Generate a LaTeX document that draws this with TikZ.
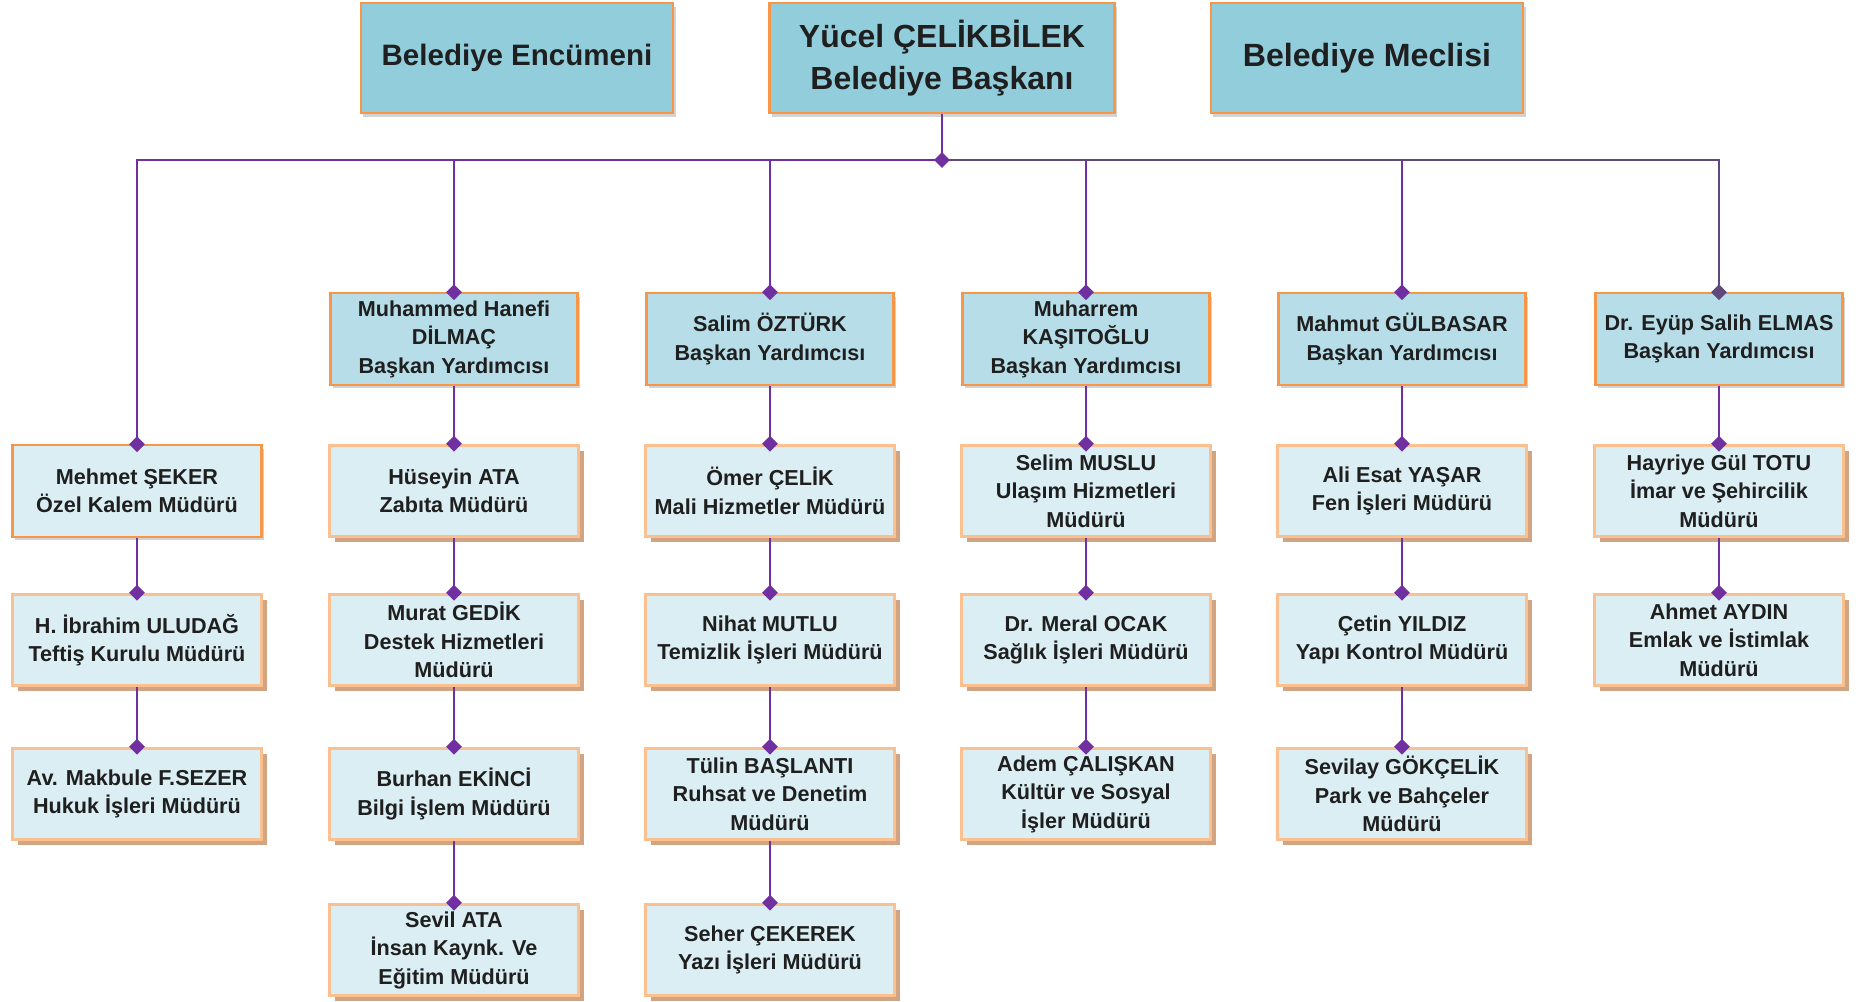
\documentclass[tikz,border=0pt]{standalone}
\usepackage{fontspec}
\setmainfont{Liberation Sans}
\usetikzlibrary{arrows.meta,shadows}
\definecolor{topfill}{HTML}{92CDDC}
\definecolor{yrdfill}{HTML}{B7DEE8}
\definecolor{mudfill}{HTML}{DAEEF3}
\definecolor{edgeorange}{HTML}{F79646}
\definecolor{edgelight}{HTML}{FAC090}
\definecolor{mudshadow}{HTML}{D2A482}
\definecolor{linkpurple}{HTML}{7030A0}
\definecolor{linkdark}{HTML}{5F497A}
\definecolor{txtgray}{HTML}{1F1F1F}

\begin{document}
\begin{tikzpicture}[x=0.02cm,y=-0.02cm,
    topbox/.style={draw=edgeorange, line width=1.2pt, fill=topfill, text=txtgray, align=center,
      minimum width=6.25cm, minimum height=2.2cm,
      font=\fontsize{16.8}{24.5}\selectfont\bfseries,
      drop shadow={opacity=0.35, shadow xshift=1.5pt, shadow yshift=-2pt}},
    yrdbox/.style={draw=edgeorange, line width=1.2pt, fill=yrdfill, text=txtgray, align=center,
      minimum width=4.94cm, minimum height=1.83cm, inner sep=1pt,
      font=\fontsize{12.3}{16.2}\selectfont\bfseries,
      drop shadow={opacity=0.35, shadow xshift=1.5pt, shadow yshift=-2pt}},
    kalembox/.style={yrdbox, fill=mudfill, minimum width=4.98cm},
    mudbox/.style={draw=edgelight, line width=1.8pt, fill=mudfill, text=txtgray, align=center,
      minimum width=4.98cm, minimum height=1.83cm, inner sep=1pt,
      font=\fontsize{12.3}{16.2}\selectfont\bfseries,
      general shadow={fill=mudshadow, shadow xshift=3pt, shadow yshift=-3pt}},
    link/.style={draw=linkpurple, line width=1.2pt, -{Diamond[length=9pt,width=9pt]}}]
  \useasboundingbox (0,0) rectangle (1863,1001);

  % top row
  \node[topbox] (encumen) at (517,58) {Belediye Encümeni};
  \node[topbox, minimum width=6.9cm, font=\fontsize{18.2}{24}\selectfont\bfseries] (baskan) at (942,58) {Yücel ÇELİKBİLEK\\Belediye Başkanı};
  \node[topbox, font=\fontsize{18.3}{24.5}\selectfont\bfseries] (meclis) at (1367,58) {Belediye Meclisi};

  % baskan yardimcilari
  \node[yrdbox] (yrd1) at (454,339) {Muhammed Hanefi\\DİLMAÇ\\Başkan Yardımcısı};
  \node[yrdbox] (yrd2) at (770,339) {Salim ÖZTÜRK\\Başkan Yardımcısı};
  \node[yrdbox] (yrd3) at (1086,339) {Muharrem\\KAŞITOĞLU\\Başkan Yardımcısı};
  \node[yrdbox] (yrd4) at (1402,339) {Mahmut GÜLBASAR\\Başkan Yardımcısı};
  \node[yrdbox] (yrd5) at (1719,339) {Dr. Eyüp Salih ELMAS\\Başkan Yardımcısı};

  % mudurler
  \node[kalembox] (ozelkalem) at (137,491) {Mehmet ŞEKER\\Özel Kalem Müdürü};
  \node[mudbox] (teftis) at (137,640) {H. İbrahim ULUDAĞ\\Teftiş Kurulu Müdürü};
  \node[mudbox] (hukuk) at (137,794) {Av. Makbule F.SEZER\\Hukuk İşleri Müdürü};

  \node[mudbox] (zabita) at (454,491) {Hüseyin ATA\\Zabıta Müdürü};
  \node[mudbox] (destek) at (454,640) {Murat GEDİK\\Destek Hizmetleri\\Müdürü};
  \node[mudbox] (bilgi) at (454,794) {Burhan EKİNCİ\\Bilgi İşlem Müdürü};
  \node[mudbox] (insan) at (454,950) {Sevil ATA\\İnsan Kaynk. Ve\\Eğitim Müdürü};

  \node[mudbox] (mali) at (770,491) {Ömer ÇELİK\\Mali Hizmetler Müdürü};
  \node[mudbox] (temizlik) at (770,640) {Nihat MUTLU\\Temizlik İşleri Müdürü};
  \node[mudbox] (ruhsat) at (770,794) {Tülin BAŞLANTI\\Ruhsat ve Denetim\\Müdürü};
  \node[mudbox] (yazi) at (770,950) {Seher ÇEKEREK\\Yazı İşleri Müdürü};

  \node[mudbox] (ulasim) at (1086,491) {Selim MUSLU\\Ulaşım Hizmetleri\\Müdürü};
  \node[mudbox] (saglik) at (1086,640) {Dr. Meral OCAK\\Sağlık İşleri Müdürü};
  \node[mudbox] (kultur) at (1086,794) {Adem ÇALIŞKAN\\Kültür ve Sosyal\\İşler Müdürü};

  \node[mudbox] (fen) at (1402,491) {Ali Esat YAŞAR\\Fen İşleri Müdürü};
  \node[mudbox] (yapi) at (1402,640) {Çetin YILDIZ\\Yapı Kontrol Müdürü};
  \node[mudbox] (park) at (1402,794) {Sevilay GÖKÇELİK\\Park ve Bahçeler\\Müdürü};

  \node[mudbox] (imar) at (1719,491) {Hayriye Gül TOTU\\İmar ve Şehircilik\\Müdürü};
  \node[mudbox] (emlak) at (1719,640) {Ahmet AYDIN\\Emlak ve İstimlak\\Müdürü};

  % connectors
  \coordinate (bus) at (942,160);
  \draw[link] (bus) -| ([yshift=-4.5pt]ozelkalem.north);
  \draw[link] (bus) -| ([yshift=-4.5pt]yrd1.north);
  \draw[link] (bus) -| ([yshift=-4.5pt]yrd2.north);
  \draw[link] (bus) -| ([yshift=-4.5pt]yrd3.north);
  \draw[link] (bus) -| ([yshift=-4.5pt]yrd4.north);
  \draw[link, draw=linkdark] (bus) -| ([yshift=-4.5pt]yrd5.north);
  \draw[link] (baskan) -- ([yshift=-4.5pt]bus);

  \draw[link] (ozelkalem) -- ([yshift=-4.5pt]teftis.north);
  \draw[link] (teftis) -- ([yshift=-4.5pt]hukuk.north);
  \draw[link] (yrd1) -- ([yshift=-4.5pt]zabita.north);
  \draw[link] (zabita) -- ([yshift=-4.5pt]destek.north);
  \draw[link] (destek) -- ([yshift=-4.5pt]bilgi.north);
  \draw[link] (bilgi) -- ([yshift=-4.5pt]insan.north);
  \draw[link] (yrd2) -- ([yshift=-4.5pt]mali.north);
  \draw[link] (mali) -- ([yshift=-4.5pt]temizlik.north);
  \draw[link] (temizlik) -- ([yshift=-4.5pt]ruhsat.north);
  \draw[link] (ruhsat) -- ([yshift=-4.5pt]yazi.north);
  \draw[link] (yrd3) -- ([yshift=-4.5pt]ulasim.north);
  \draw[link] (ulasim) -- ([yshift=-4.5pt]saglik.north);
  \draw[link] (saglik) -- ([yshift=-4.5pt]kultur.north);
  \draw[link] (yrd4) -- ([yshift=-4.5pt]fen.north);
  \draw[link] (fen) -- ([yshift=-4.5pt]yapi.north);
  \draw[link] (yapi) -- ([yshift=-4.5pt]park.north);
  \draw[link] (yrd5) -- ([yshift=-4.5pt]imar.north);
  \draw[link] (imar) -- ([yshift=-4.5pt]emlak.north);
\end{tikzpicture}
\end{document}
